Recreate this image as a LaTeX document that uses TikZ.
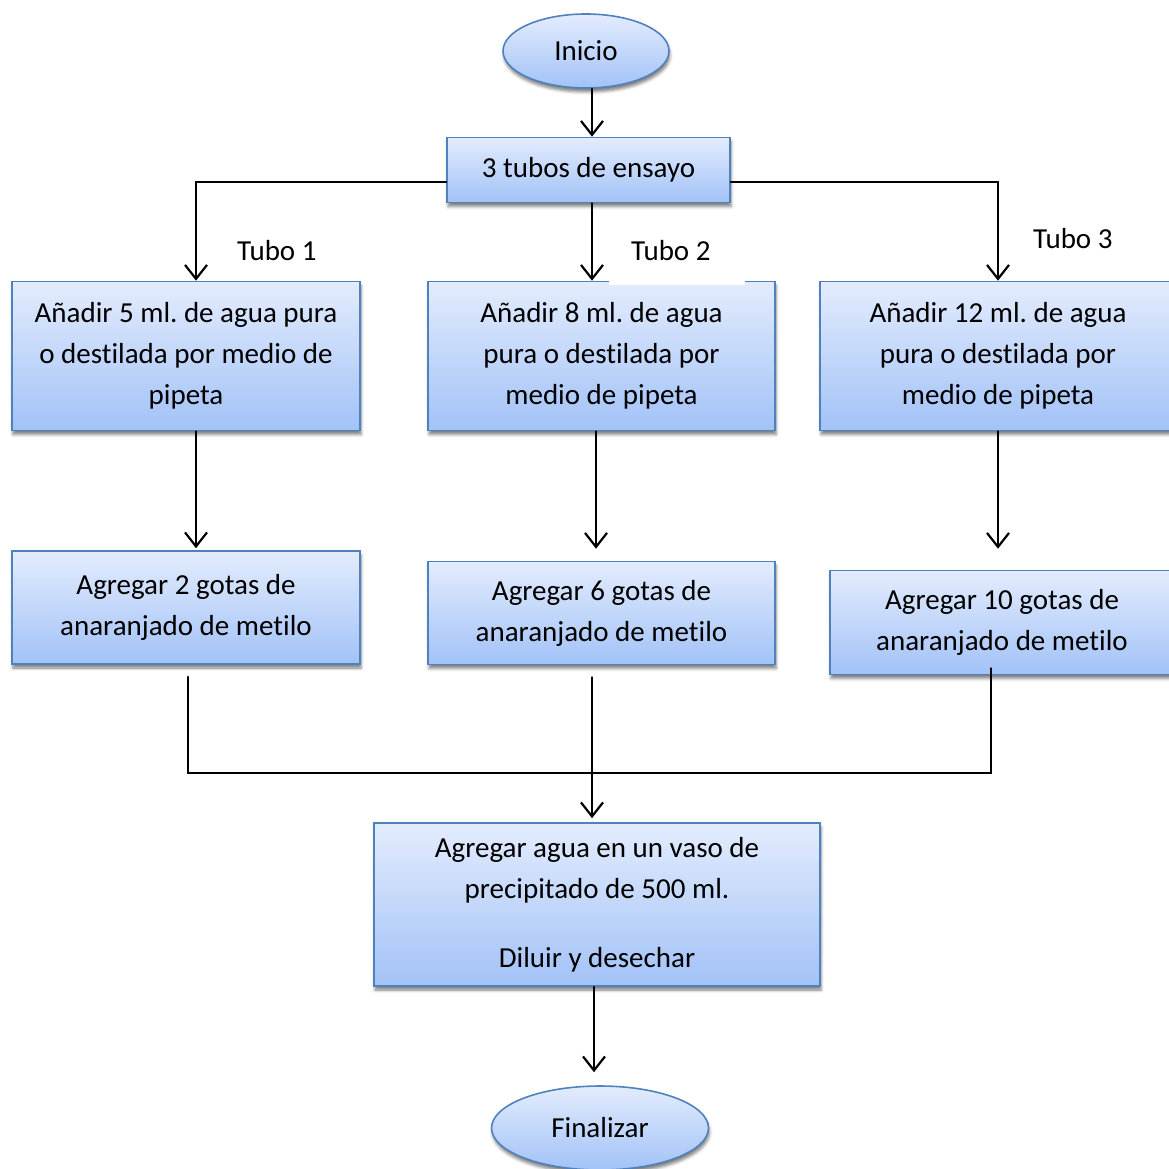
\documentclass[tikz,border=0pt]{standalone}
\usepackage{fontspec}
\setmainfont{Carlito}[Ligatures=NoCommon]
\usetikzlibrary{arrows.meta,shadows,shadows.blur,shapes.geometric,calc}
\definecolor{boxtop}{HTML}{E3ECFD}
\definecolor{boxbot}{HTML}{A2C2F7}
\definecolor{boxline}{HTML}{4F81BD}
\newcommand\flowfont{\fontsize{29}{41}\selectfont\frenchspacing}
\begin{document}
\begin{tikzpicture}[x=1pt,y=-1pt,
  procbox/.style={rectangle, draw=boxline, line width=1.6pt,
    top color=boxtop, bottom color=boxbot,
    blur shadow={shadow xshift=1pt, shadow yshift=-4pt, shadow blur radius=3pt, shadow opacity=50},
    align=center, inner sep=0pt, font=\flowfont},
  termnode/.style={procbox, ellipse},
  tubelabel/.style={font=\flowfont, inner sep=0pt, anchor=base west},
  link/.style={line width=2.2pt, line cap=round},
  flow/.style={link, -{Straight Barb[length=14pt,width=22pt]}}]
\useasboundingbox (0,0) rectangle (1168,1169);

% start and top box
\node[termnode, minimum width=166pt, minimum height=74pt] (ini) at (586,51) {Inicio};
\node[procbox, minimum width=283pt, minimum height=65pt] (top) at (588.5,170) {3 tubos de ensayo};

% first row: water per tube
\node[procbox, minimum width=348pt, minimum height=149pt] (b1) at (186,356)
  {Añadir 5 ml. de agua pura\\o destilada por medio de\\pipeta};
\node[procbox, minimum width=347pt, minimum height=149pt] (b2) at (601.5,356)
  {Añadir 8 ml. de agua\\pura o destilada por\\medio de pipeta};
\node[procbox, minimum width=356pt, minimum height=149pt] (b3) at (998,356)
  {Añadir 12 ml. de agua\\pura o destilada por\\medio de pipeta};

% second row: indicator drops
\node[procbox, minimum width=348pt, minimum height=113pt] (b4) at (186,607.5)
  {Agregar 2 gotas de\\anaranjado de metilo};
\node[procbox, minimum width=347pt, minimum height=103pt] (b5) at (601.5,613)
  {Agregar 6 gotas de\\anaranjado de metilo};
\node[procbox, minimum width=344pt, minimum height=104pt] (b6) at (1002,622.5)
  {Agregar 10 gotas de\\anaranjado de metilo};

% final step and end
\node[procbox, minimum width=446pt, minimum height=163pt] (b7) at (597,904.5)
  {Agregar agua en un vaso de\\precipitado de 500 ml.\\[28pt]Diluir y desechar};
\node[termnode, minimum width=217pt, minimum height=84pt] (fin) at (600,1128) {Finalizar};

% tube labels
\node[tubelabel] (t1) at (237,260) {Tubo 1};
\node[tubelabel, fill=white, inner xsep=22pt, inner ysep=0pt, text depth=25pt, text height=22pt] (t2) at (609,260) {Tubo 2\hspace*{12pt}};
\node[tubelabel] (t3) at (1033,248) {Tubo 3};

% connectors
\coordinate (jl) at (196,182);
\coordinate (jr) at (998,182);
\draw[flow] ([xshift=6pt]ini.south) -- ([xshift=6pt]ini.south |- top.north);
\draw[link] (top.west |- jl) -- (jl);
\draw[flow] (jl) -- (jl |- b1.north);
\draw[link] (top.east |- jr) -- (jr);
\draw[flow] (jr) -- (jr |- b3.north);
\draw[flow] ([xshift=3.5pt]top.south) -- ([xshift=3.5pt]top.south |- b2.north);

\draw[flow] ([xshift=10pt]b1.south) -- ([xshift=10pt,yshift=2pt]b4.north);
\draw[flow] ($(b2.south)+(-5.5,0)$) -- ($(b5.north)+(-5.5,-12)$);
\draw[flow] (b3.south) -- ($(b6.north)+(-4,-21)$);

\coordinate (ml) at (188,773);
\coordinate (mr) at (991,773);
\draw[link] ($(b4.south)+(2,12)$) -- (ml) -- (mr) -- ($(b6.south)+(-11,-7)$);
\draw[flow] ($(b5.south)+(-9.5,12)$) -- ($(b7.north)+(-5,-4)$);
\draw[flow] ($(b7.south)+(-3,0)$) -- ($(fin.north)+(-6,-13)$);
\end{tikzpicture}
\end{document}
